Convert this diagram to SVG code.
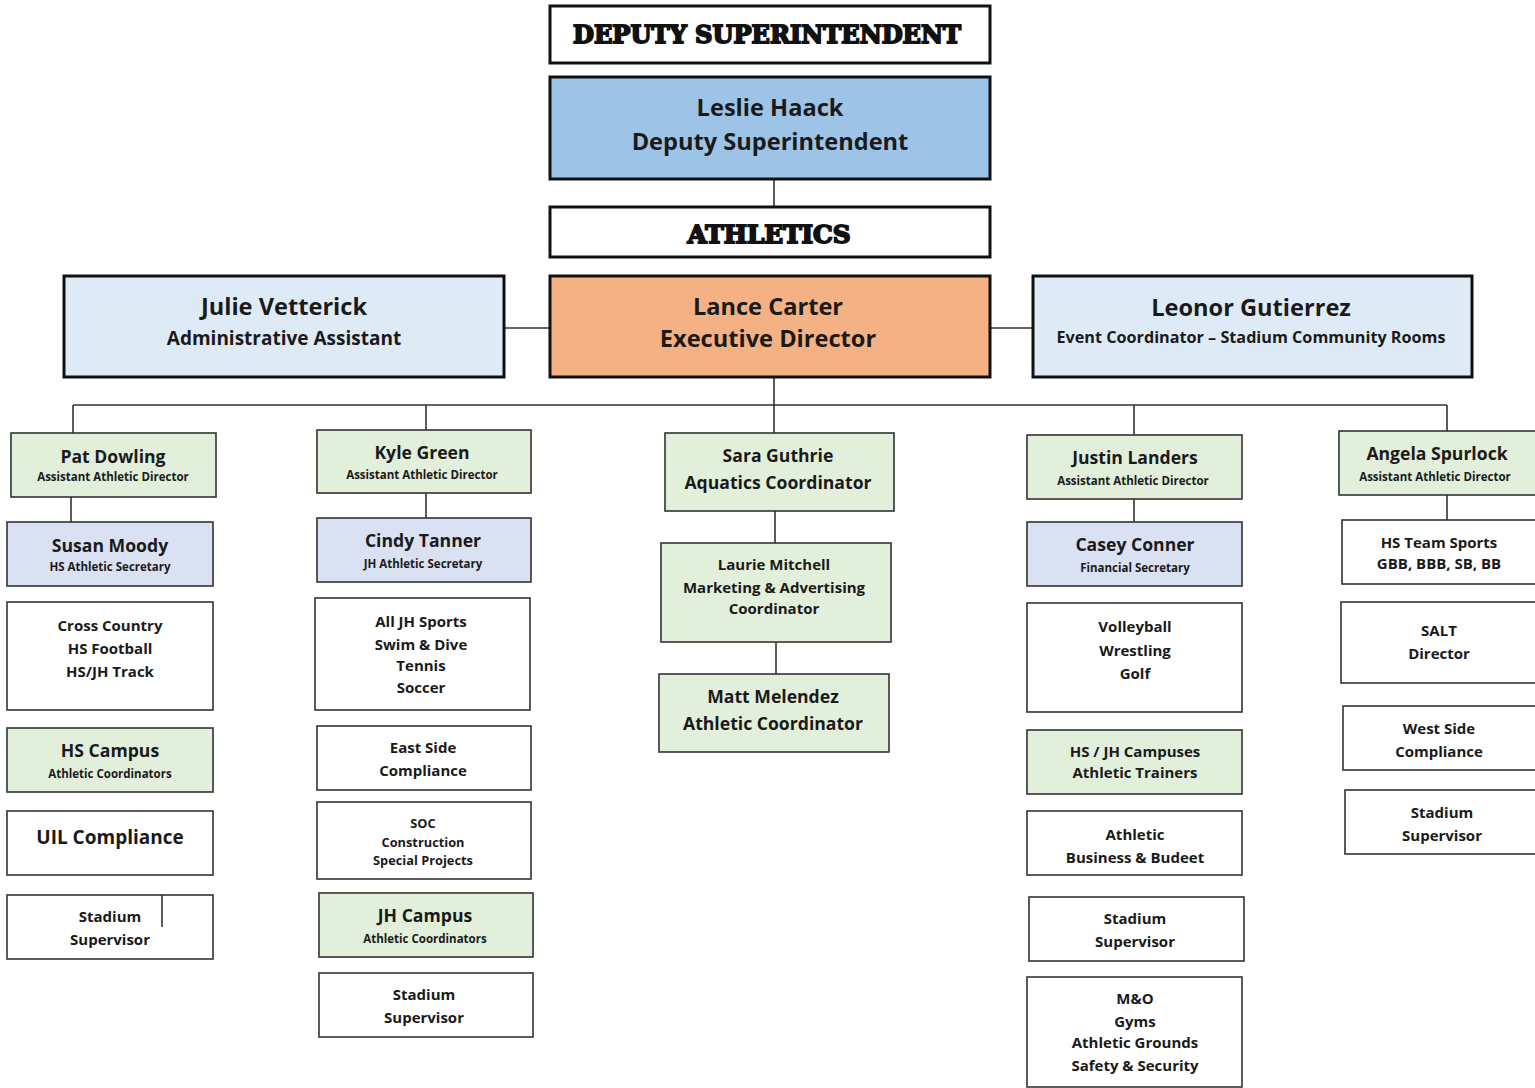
<svg xmlns="http://www.w3.org/2000/svg" width="1535" height="1088" viewBox="0 0 1535 1088">
<style>
text{font-family:"Open Sans",Lato,"Liberation Sans",sans-serif;font-weight:700;fill:#1a1a1a;text-anchor:middle}
.top{fill:#fff;stroke:#111;stroke-width:3}
.b{stroke:#333;stroke-width:1.6;fill:#fff}
.g{fill:#E2EFDA}
.s{fill:#D9E1F2}
.slab{font-family:"DejaVu Serif","Liberation Serif",serif;font-weight:900;stroke:#111;stroke-width:1.8;fill:#111}
.n24{font-size:23.6px}
.t20{font-size:19px}
.n19{font-size:17.6px}
.sub{font-size:11.5px}
.l15{font-size:15px}
.l13{font-size:12.8px}
.c{stroke:#333;stroke-width:1.6;fill:none}
</style>
<rect width="1535" height="1088" fill="#fff"/>
<g id="connectors">
<path class="c" d="M774 179V207M504 328H550M990 328H1033M774 377V405M73 405H1447M73 405V433M426 405V430M774 405V433M1134 405V435M1447 405V431"/>
<path class="c" d="M71 497V522M426 493V518M775 511V543M776 642V674M1134 499V522M1447 495V520"/>
</g>
<g id="hdr-deputy"><rect class="top" x="550" y="6" width="440" height="57"/><text class="slab" x="767" y="43" font-size="24" textLength="388" lengthAdjust="spacingAndGlyphs">DEPUTY SUPERINTENDENT</text></g>
<g id="leslie"><rect class="top" x="550" y="77" width="440" height="102" style="fill:#9DC3E6"/><text class="n24" x="770" y="116">Leslie Haack</text><text class="n24" x="770" y="150">Deputy Superintendent</text></g>
<g id="hdr-athletics"><rect class="top" x="550" y="207" width="440" height="50"/><text class="slab" x="769" y="243" font-size="24" textLength="163" lengthAdjust="spacingAndGlyphs">ATHLETICS</text></g>
<g id="julie"><rect class="top" x="64" y="276" width="440" height="101" style="fill:#DEEBF7"/><text class="n24" x="284" y="315">Julie Vetterick</text><text class="t20" x="284" y="345">Administrative Assistant</text></g>
<g id="lance"><rect class="top" x="550" y="276" width="440" height="101" style="fill:#F4B183"/><text class="n24" x="768" y="315">Lance Carter</text><text class="n24" x="768" y="347">Executive Director</text></g>
<g id="leonor"><rect class="top" x="1033" y="276" width="439" height="101" style="fill:#DEEBF7"/><text class="n24" x="1251" y="316">Leonor Gutierrez</text><text x="1251" y="343" font-size="16.2">Event Coordinator – Stadium Community Rooms</text></g>

<g id="pat"><rect class="b g" x="11" y="433" width="205" height="64"/><text class="n19" x="113" y="463">Pat Dowling</text><text class="sub" x="113" y="481">Assistant Athletic Director</text></g>
<g id="susan"><rect class="b s" x="7" y="522" width="206" height="64"/><text class="n19" x="110" y="552">Susan Moody</text><text class="sub" x="110" y="571">HS Athletic Secretary</text></g>
<g id="cross"><rect class="b" x="7" y="602" width="206" height="108"/><text class="l15" x="110" y="631">Cross Country</text><text class="l15" x="110" y="654">HS Football</text><text class="l15" x="110" y="677">HS/JH Track</text></g>
<g id="hscampus"><rect class="b g" x="7" y="728" width="206" height="64"/><text class="n19" x="110" y="757">HS Campus</text><text class="sub" x="110" y="778">Athletic Coordinators</text></g>
<g id="uil"><rect class="b" x="7" y="811" width="206" height="64"/><text class="t20" x="110" y="844">UIL Compliance</text></g>
<g id="stad1"><rect class="b" x="7" y="895" width="206" height="64"/><path class="c" d="M162 895V927"/><text class="l15" x="110" y="922">Stadium</text><text class="l15" x="110" y="945">Supervisor</text></g>

<g id="kyle"><rect class="b g" x="317" y="430" width="214" height="63"/><text class="n19" x="422" y="459">Kyle Green</text><text class="sub" x="422" y="479">Assistant Athletic Director</text></g>
<g id="cindy"><rect class="b s" x="317" y="518" width="214" height="64"/><text class="n19" x="423" y="547">Cindy Tanner</text><text class="sub" x="423" y="568">JH Athletic Secretary</text></g>
<g id="alljh"><rect class="b" x="315" y="598" width="215" height="112"/><text class="l15" x="421" y="627">All JH Sports</text><text class="l15" x="421" y="650">Swim &amp; Dive</text><text class="l15" x="421" y="671">Tennis</text><text class="l15" x="421" y="693">Soccer</text></g>
<g id="east"><rect class="b" x="317" y="726" width="214" height="64"/><text class="l15" x="423" y="753">East Side</text><text class="l15" x="423" y="776">Compliance</text></g>
<g id="soc"><rect class="b" x="317" y="802" width="214" height="77"/><text class="l13" x="423" y="828">SOC</text><text class="l13" x="423" y="847">Construction</text><text class="l13" x="423" y="865">Special Projects</text></g>
<g id="jhcampus"><rect class="b g" x="319" y="893" width="214" height="64"/><text class="n19" x="425" y="922">JH Campus</text><text class="sub" x="425" y="943">Athletic Coordinators</text></g>
<g id="stad2"><rect class="b" x="319" y="973" width="214" height="64"/><text class="l15" x="424" y="1000">Stadium</text><text class="l15" x="424" y="1023">Supervisor</text></g>

<g id="sara"><rect class="b g" x="665" y="433" width="229" height="78"/><text class="n19" x="778" y="462">Sara Guthrie</text><text class="n19" x="778" y="489">Aquatics Coordinator</text></g>
<g id="laurie"><rect class="b g" x="661" y="543" width="230" height="99"/><text class="l15" x="774" y="570">Laurie Mitchell</text><text class="l15" x="774" y="593">Marketing &amp; Advertising</text><text class="l15" x="774" y="614">Coordinator</text></g>
<g id="matt"><rect class="b g" x="659" y="674" width="230" height="78"/><text class="n19" x="773" y="703">Matt Melendez</text><text class="n19" x="773" y="730">Athletic Coordinator</text></g>

<g id="justin"><rect class="b g" x="1027" y="435" width="215" height="64"/><text class="n19" x="1135" y="464">Justin Landers</text><text class="sub" x="1133" y="485">Assistant Athletic Director</text></g>
<g id="casey"><rect class="b s" x="1027" y="522" width="215" height="64"/><text class="n19" x="1135" y="551">Casey Conner</text><text class="sub" x="1135" y="572">Financial Secretary</text></g>
<g id="volley"><rect class="b" x="1027" y="603" width="215" height="109"/><text class="l15" x="1135" y="632">Volleyball</text><text class="l15" x="1135" y="656">Wrestling</text><text class="l15" x="1135" y="679">Golf</text></g>
<g id="trainers"><rect class="b g" x="1027" y="730" width="215" height="64"/><text class="l15" x="1135" y="757">HS / JH Campuses</text><text class="l15" x="1135" y="778">Athletic Trainers</text></g>
<g id="business"><rect class="b" x="1027" y="811" width="215" height="64"/><text class="l15" x="1135" y="840">Athletic</text><text class="l15" x="1135" y="863">Business &amp; Budeet</text></g>
<g id="stad4"><rect class="b" x="1029" y="897" width="215" height="64"/><text class="l15" x="1135" y="924">Stadium</text><text class="l15" x="1135" y="947">Supervisor</text></g>
<g id="mo"><rect class="b" x="1027" y="977" width="215" height="110"/><text class="l15" x="1135" y="1004">M&amp;O</text><text class="l15" x="1135" y="1027">Gyms</text><text class="l15" x="1135" y="1048">Athletic Grounds</text><text class="l15" x="1135" y="1071">Safety &amp; Security</text></g>

<g id="angela"><rect class="b g" x="1339" y="431" width="205" height="64"/><text class="n19" x="1437" y="460">Angela Spurlock</text><text class="sub" x="1435" y="481">Assistant Athletic Director</text></g>
<g id="teamsports"><rect class="b" x="1342" y="520" width="205" height="64"/><text class="l15" x="1439" y="548">HS Team Sports</text><text class="l15" x="1439" y="569">GBB, BBB, SB, BB</text></g>
<g id="salt"><rect class="b" x="1341" y="602" width="205" height="81"/><text class="l15" x="1439" y="636">SALT</text><text class="l15" x="1439" y="659">Director</text></g>
<g id="west"><rect class="b" x="1343" y="706" width="205" height="64"/><text class="l15" x="1439" y="734">West Side</text><text class="l15" x="1439" y="757">Compliance</text></g>
<g id="stad5"><rect class="b" x="1345" y="790" width="205" height="64"/><text class="l15" x="1442" y="818">Stadium</text><text class="l15" x="1442" y="841">Supervisor</text></g>
</svg>
